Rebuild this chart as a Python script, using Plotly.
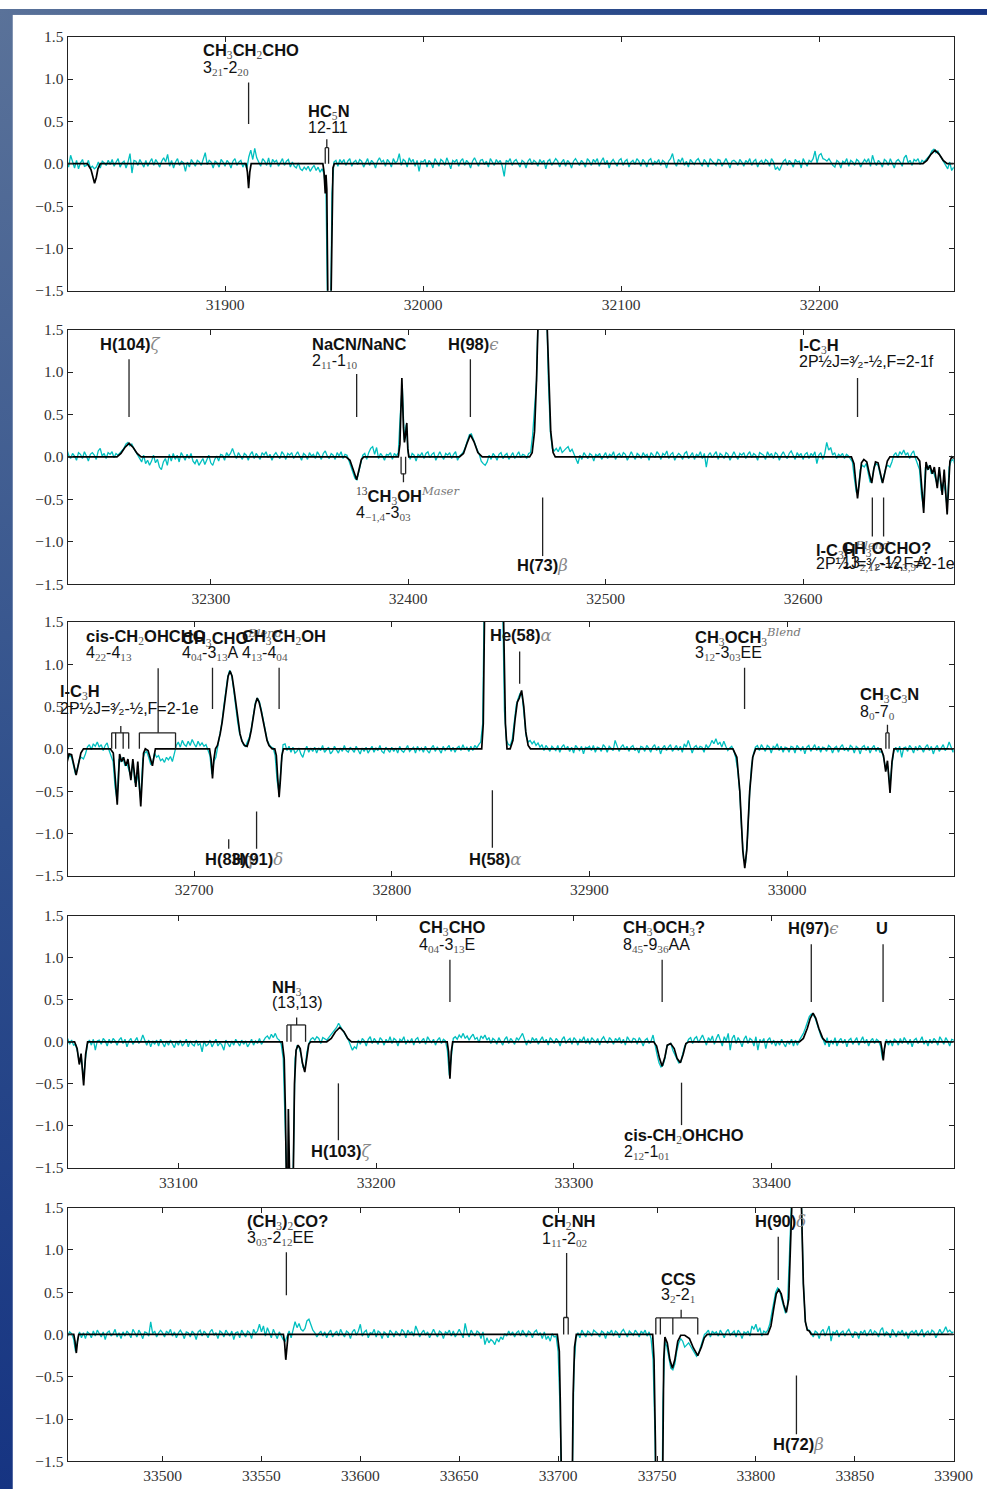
import base64
import plotly.graph_objects as go

# Observed spectrum: 1 MHz channels starting at 31820 MHz, 20 channels per row.
OBS_START_MHZ = 31820.0
OBS_STEP_MHZ = 1.0
obs_rows = [
    [.03,-.04,.1,.02,-.05,.04,-.06,.01,.05,-.03,-.02,.04,-.05,-.03,-.06,-.04,.02,-.05,.03,.01],
    [-.02,.04,-.01,.05,-.03,.02,.06,-.04,.01,.03,-.05,.02,.12,-.11,.04,.03,-.02,.05,.01,-.04],
    [.04,-.03,.02,.06,-.02,.05,.01,-.04,.03,.07,.02,.11,-.03,.04,-.05,.02,.06,-.02,.03,.01],
    [-.09,.02,-.04,.05,.01,-.03,.04,.02,-.02,.06,.13,-.01,.04,.02,-.05,.03,.01,-.04,.05,.02],
    [-.03,.04,.01,-.05,.03,.06,-.02,.02,.04,-.04,.01,-.06,.08,.16,.05,.18,.07,.02,-.03,.06],
    [.03,-.02,.07,-.04,.05,.02,.04,-.03,.01,.06,-.02,.03,.05,-.04,.02,-.03,-.05,.01,-.06,-.08],
    [-.04,-.07,-.03,-.09,-.05,-.02,-.08,-.04,-.1,-.06,-.12,-.35,-2.1,-2.6,-.35,.02,.04,-.03,.05,.01],
    [.05,-.02,.03,.06,-.03,.02,.04,-.01,.05,.03,-.04,.02,.06,-.02,.04,.01,-.05,.03,.07,.02],
    [.04,-.03,.05,.02,-.04,.06,.01,.03,.12,-.02,.05,.03,-.04,.07,.02,.05,-.03,.04,-.09,.03],
    [.02,.05,-.04,.04,.01,-.05,.06,.02,-.03,.05,.03,-.02,.07,.01,-.06,.04,.02,.05,-.03,.03],
    [.06,-.02,.04,.01,-.05,.03,.07,.02,-.03,.04,.05,-.01,.03,-.04,.06,.02,-.02,.05,.01,.04],
    [-.03,-.15,.04,.02,.06,-.02,.03,.05,.01,-.04,.04,.02,-.05,.03,.06,-.01,.04,.02,-.03,.05],
    [.01,.04,-.06,.03,.05,-.02,.02,.06,.03,-.04,.02,.05,-.03,.04,.01,-.05,.03,.06,.02,-.02],
    [.04,.01,-.04,.06,.03,-.02,.05,.02,.06,-.03,.03,.07,-.01,.04,-.05,.02,.05,.01,-.03,.04],
    [.06,-.02,.03,.05,-.04,.02,.04,-.01,.06,.03,-.03,.05,.02,-.04,.04,.06,-.02,.03,.01,.05],
    [-.02,.04,.02,-.05,.03,.06,.12,.01,-.03,.05,.02,.07,-.02,.03,-.04,.05,.02,-.01,.04,.06],
    [.01,-.03,.05,.02,-.04,.06,.03,.01,-.02,.05,.04,-.03,.02,.06,.01,-.05,.03,.04,.02,-.02],
    [.05,.02,-.03,.04,.01,.06,-.02,.03,.05,-.04,.02,.04,-.01,.05,.03,-.03,.06,.02,-.07,-.04],
    [-.08,-.02,.03,.05,-.02,.04,.01,-.04,.05,.02,.03,-.05,.06,.01,-.03,.04,.02,.06,.15,.01],
    [.1,.12,.06,.05,.03,.06,.02,-.02,-.04,.04,.02,-.05,.03,.01,.06,-.03,.04,.02,-.02,.05],
    [.03,-.04,.01,.05,.02,.06,-.03,.1,.02,-.02,.04,.01,-.04,.05,.03,-.02,.06,.01,-.05,.03],
    [.05,.02,-.03,.07,.1,.01,.04,-.02,.05,.03,.06,-.01,.04,.02,.05,.08,.1,.15,.17,.13],
    [.15,.1,.06,.02,-.03,-.06,.02,-.08,-.04,-.1,-.05,.02,-.07,-.03,-.12,-.15,-.06,-.02,-.1,.03],
    [-.05,.04,-.03,.02,-.06,.05,.01,-.04,.03,-.02,.04,-.05,-.08,-.03,-.1,-.06,-.02,-.09,-.04,.02],
    [-.07,-.1,-.03,.01,-.05,.03,.02,-.04,.05,.01,.04,.1,.03,-.02,.05,.01,-.03,.04,.02,-.04],
    [.03,.06,-.02,.04,.01,-.03,.05,.02,.06,-.01,.03,-.04,.02,.05,.01,-.02,.06,.03,-.03,.04],
    [.02,.05,-.02,.03,.06,.01,-.04,.04,.02,-.03,.05,.01,.03,-.02,.06,.02,-.03,.04,.07,.01],
    [-.02,.04,.02,-.03,.05,.01,.06,-.02,.03,.02,-.05,-.12,-.18,-.25,-.27,-.16,-.05,.02,.04,-.03],
    [.05,.1,.12,.03,.11,-.02,.04,.01,-.04,.03,.02,.05,-.03,.04,.01,.05,.5,.85,.2,.38],
    [.05,-.03,.04,.02,-.05,.03,.01,.05,-.02,.04,.06,-.01,.03,.05,-.04,.02,.06,.01,-.03,.04],
    [.02,.05,-.02,.03,.06,-.04,.01,.03,.06,.12,.2,.26,.27,.2,.13,.08,.03,-.05,-.08,-.1],
    [-.06,.02,-.03,.04,.01,-.04,.03,.05,-.02,.02,.04,-.03,.01,.05,-.02,.03,.06,-.01,.03,.02],
    [-.02,.04,.05,.25,.6,.9,1.9,3.2,3.6,3.2,1.9,.9,.3,.1,.07,.1,.06,.12,.05,.08],
    [.1,.12,.06,.09,.03,-.04,-.08,.02,-.03,.05,.01,-.02,.04,.02,-.05,.03,.01,.04,-.03,.02],
    [.05,-.02,.03,.01,.06,-.03,.02,.04,-.01,.05,.03,-.04,.02,.06,.01,-.03,.04,.02,-.02,.05],
    [.01,.03,-.04,.05,.02,-.01,.06,.03,-.03,.04,.02,.07,-.02,.03,.05,-.04,.01,.04,.02,-.03],
    [.04,.06,-.02,.02,.05,-.03,.03,.01,.06,-.02,.04,-.12,.02,.05,-.01,.03,.06,-.03,.04,.02],
    [-.02,.05,.03,-.04,.02,.06,.01,-.03,.04,.02,.05,-.02,.03,.06,-.01,.04,.02,-.04,.05,.03],
    [.02,-.03,.06,.01,.04,-.02,.05,.03,-.04,.02,.06,.01,-.02,.04,.07,.02,-.03,.05,.01,.04],
    [-.03,.03,.05,-.02,.04,.01,.06,-.08,.02,.05,-.03,.04,.17,.08,.11,.02,.05,-.02,.03,.01],
    [.04,-.02,.03,.01,-.02,-.06,-.25,-.42,-.38,-.15,-.1,-.12,-.08,-.2,-.3,-.26,-.12,-.08,-.1,-.2],
    [-.3,-.22,-.12,-.1,-.12,-.06,.02,.05,-.01,.06,.03,.08,.02,.05,-.02,.04,.07,-.02,-.1,-.15],
    [-.45,-.6,-.12,-.15,-.1,-.2,-.17,-.25,-.33,-.15,-.4,-.3,-.4,-.6,-.12,-.05,-.03,-.1,-.18,-.16],
    [-.05,-.1,-.08,-.14,-.12,-.16,-.1,-.13,-.09,-.15,-.07,.04,.08,.02,.1,.05,.03,.09,.04,.11],
    [.06,.02,.09,.04,.07,.03,.05,-.03,-.08,-.3,-.15,-.1,.02,.15,.3,.5,.68,.85,.93,.87],
    [.7,.5,.32,.18,.1,.05,.03,.08,.14,.25,.4,.55,.6,.56,.46,.33,.2,.1,.05,.02],
    [.01,-.08,-.38,-.52,-.2,.05,.06,-.02,.03,-.04,.02,-.05,-.03,.01,-.06,-.1,-.02,.03,-.04,.01],
    [-.03,.02,-.05,.01,-.02,.04,-.04,-.01,.02,-.06,-.03,.03,-.02,-.05,.01,-.03,.04,-.02,-.04,.02],
    [-.01,-.04,.03,-.02,-.06,.01,-.03,.02,-.05,-.01,.03,-.04,.01,-.02,.04,-.03,-.05,.02,-.01,-.04],
    [.02,-.03,.01,-.05,.03,-.02,-.04,.01,.04,-.03,-.01,.02,-.05,.03,-.02,.01,-.04,.03,-.02,-.05],
    [.01,.04,-.03,.02,-.01,-.05,.03,-.02,.01,.04,-.03,.02,-.04,.01,.03,-.02,.05,-.01,.02,-.03],
    [.03,-.02,.04,.01,.05,.08,.3,1.2,4,7.5,10,11.4,11.6,10.4,8,5,1.9,.45,.1,.05],
    [.04,.12,.3,.52,.6,.66,.62,.35,.15,.08,.1,.06,.09,.04,.07,.02,.05,-.02,.04,.01],
    [-.03,.03,.01,-.02,.04,-.04,.02,.05,-.01,.03,-.03,.02,-.05,.04,.01,-.02,.03,-.06,.02,.01],
    [.03,-.02,.04,-.04,.02,.01,-.03,.05,.02,-.04,.03,.01,-.02,.1,.04,-.03,.02,.05,-.01,.03],
    [-.03,.02,.04,-.02,.01,-.05,.03,.02,-.03,.04,.01,-.04,.02,.05,-.02,.03,-.06,.01,.04,-.02],
    [.02,.05,-.03,.01,.04,-.02,.03,-.04,.06,.02,.1,.03,-.05,.02,.04,-.01,.03,.02,-.04,.05],
    [.01,.04,.1,.06,.12,.05,.08,.02,.09,.03,-.02,.01,.03,-.02,-.1,-.25,-.5,-.95,-1.3,-1.35],
    [-1.05,-.55,-.2,-.06,.02,.04,-.02,.05,.01,-.03,.04,.02,-.05,.03,.01,.06,-.02,.03,-.04,.02],
    [.01,-.04,.03,.02,-.05,.04,.01,-.02,.03,-.06,.02,.04,-.03,.01,.05,-.02,.03,-.04,.02,.01],
    [-.03,.04,.02,-.05,.01,.03,-.04,.02,.05,-.02,.01,-.03,.04,.02,-.05,.03,.01,-.06,.02,.04],
    [-.02,.03,-.05,.01,.04,-.03,.02,-.04,-.03,-.12,-.25,-.2,-.45,-.2,-.03,.02,-.04,.03,-.1,.01],
    [.02,-.03,.04,.01,-.05,.03,-.02,.04,.01,-.04,.02,.05,-.02,.03,-.06,.01,.04,-.03,.02,.05],
    [-.02,.01,.08,.03,-.04,.02,-.06,.01,-.03,.02,-.05,.03,-.02,-.06,.01,-.04,.02,-.03,-.07,.01],
    [-.04,.02,-.05,-.02,.03,-.06,.01,-.03,-.05,.02,-.04,-.02,-.12,.01,-.05,-.03,.02,-.06,-.02,.03],
    [-.05,-.01,-.04,-.1,.02,-.03,-.06,.01,-.04,.03,-.02,-.05,.02,-.03,.01,-.06,-.02,.03,-.04,.01],
    [-.02,.04,-.03,.02,.05,.07,.03,.09,.05,.1,.04,.02,-.03,-.2,-1.2,-2.4,-2.6,-2.5,-1.6,-.2],
    [-.05,-.06,-.15,-.3,-.33,-.12,-.02,.03,.05,.02,.06,.04,-.02,.05,.03,.02,.05,.08,.12,.15],
    [.17,.22,.18,.14,.1,.05,.02,-.04,-.1,-.06,-.08,.02,-.03,.04,.01,-.05,.03,.06,-.02,.04],
    [.01,-.03,.05,.02,-.04,.03,-.01,.06,-.02,.04,.02,-.05,.03,.01,.06,-.03,.02,-.01,.04,-.04],
    [.03,.05,-.02,.01,.04,-.03,.06,.02,-.01,.03,-.04,.02,.05,-.02,.03,.01,-.1,-.4,-.2,.04],
    [.06,.03,.08,.05,.1,.04,.07,.02,.06,.09,.03,.05,-.01,.07,.04,.08,.02,.05,-.02,.04],
    [.02,-.03,.05,.01,-.04,.03,.06,-.02,.04,.01,-.03,.05,.02,.06,.1,.03,-.04,.02,-.02,.05],
    [.01,.04,-.03,.02,.06,-.01,.03,-.04,.05,.02,-.02,.04,.01,-.05,.03,.06,-.02,.02,.04,-.03],
    [.05,.02,-.04,.03,.01,.06,-.02,.04,-.03,.05,.02,-.01,.04,-.04,.03,.06,.01,-.02,.05,.02],
    [-.03,.04,.01,.05,-.02,.03,-.04,.06,.02,-.01,.04,.03,-.03,.05,.01,-.05,.02,.04,-.02,.01],
    [.08,-.05,-.15,-.25,-.3,-.28,-.2,-.05,-.03,-.02,-.1,-.15,-.22,-.25,-.24,-.15,-.05,-.02,.03,.05],
    [-.02,.04,.06,-.01,.03,.08,.02,-.04,.05,.01,.07,-.03,.04,.09,.02,-.05,.06,.01,.1,-.1],
    [.04,.08,-.02,.05,.01,-.06,.03,.07,-.02,.04,.02,-.05,.06,-.1,.03,-.01,.04,-.08,.02,.05],
    [-.03,.02,-.05,.01,-.04,.03,-.02,-.06,.01,-.03,.03,-.05,.02,-.04,.02,.06,.1,.16,.22,.3],
    [.33,.32,.28,.2,.12,.06,.03,-.04,.05,-.06,.02,-.03,.05,-.05,.01,.04,-.02,.03,-.06,.02],
    [.04,-.03,.01,.05,-.04,.02,.06,-.02,.03,-.05,.01,.04,-.02,.03,.01,-.05,-.2,-.08,.03,-.04],
    [.02,-.05,.03,.01,-.04,.04,-.02,.05,.01,-.03,.03,-.06,.02,.04,-.02,.01,.06,-.03,.02,-.05],
    [.03,-.02,.04,.01,-.04,.06,.02,-.03,.05,.01,-.05,.03,.02,-.02,.15,.01,.04,-.03,.02,.05],
    [.02,-.03,.04,.01,.06,-.02,.03,-.04,.02,.05,.01,-.05,.03,.02,-.03,.04,.01,-.06,.03,.05],
    [-.02,.04,.01,-.04,.03,.06,-.01,.02,-.05,.04,.02,-.03,.05,.01,-.02,.04,-.06,.02,.03,-.04],
    [.05,.01,-.03,.04,.02,-.05,.06,.01,.04,.12,.03,.1,-.02,.08,.02,-.04,.06,.01,-.05,.03],
    [-.02,-.06,-.08,-.03,.04,-.04,.05,.15,.08,.13,.06,.04,.07,.16,.18,.12,.05,.02,-.03,.01],
    [.04,-.02,.03,-.04,.02,.05,-.03,.01,.04,-.02,.06,.01,-.03,.04,.02,-.05,.03,.06,-.01,.04],
    [.12,-.02,.03,.05,-.04,.02,.01,.06,-.03,.04,.02,-.05,.03,.01,-.04,.05,.02,-.03,.04,.01],
    [-.02,.06,.03,-.04,.05,.01,.03,-.02,.1,.04,-.03,.02,.05,-.01,.03,-.04,.02,.06,.01,-.03],
    [.04,.02,-.05,.03,.01,.05,-.02,.04,-.03,.02,.06,.01,-.04,.13,.02,-.03,.05,.01,-.02,.04],
    [.02,-.05,.03,-.12,-.04,-.1,-.06,-.08,-.12,-.05,-.09,-.03,-.06,.01,-.02,.04,-.01,.03,-.03,.02],
    [.04,-.02,.05,.01,-.03,.04,.02,-.04,.03,.05,-.01,.02,-.05,.03,-.06,-.02,-.08,.01,-.03,-.02],
    [-.2,-.9,-3,-5,-6,-6,-4.5,-2,-.4,-.05,.02,-.04,.05,.01,-.03,.04,.02,-.02,.05,.03],
    [.01,-.03,.04,.02,-.05,.03,.01,.05,-.02,.04,.02,-.04,.03,.06,.01,-.03,.04,.02,-.01,.05],
    [.02,-.03,.04,.01,.05,-.02,.03,-.05,-.3,-1.2,-4,-5.5,-3.5,-.8,-.08,-.15,-.28,-.4,-.42,-.35],
    [-.2,-.1,-.05,-.08,-.15,-.12,-.1,-.14,-.18,-.22,-.26,-.23,-.15,-.06,.0,.02,.05,-.03,.04,.01],
    [.03,-.02,.05,.01,-.04,.03,.06,-.01,.02,.04,-.03,.05,.02,-.05,.03,.01,.04,-.02,.1,.06],
    [.12,.03,.08,-.02,.04,.02,.05,.12,.25,.38,.5,.55,.52,.42,.32,.25,.35,.8,1.2,2.2],
    [3.4,3.3,2.6,1.6,.6,.15,.06,.05,.02,-.03,.04,.02,-.05,.03,.06,-.02,.04,.1,-.08,.03],
    [.01,.05,-.03,.02,.04,-.02,.03,.06,.01,-.04,.03,.02,-.05,.04,.01,.05,-.02,.03,.06,-.01],
    [.04,.02,-.03,.05,.08,-.02,.03,.01,-.04,.06,.02,-.03,.04,.01,.05,-.02,.03,-.05,.02,.04],
    [.01,.05,-.02,.03,.06,-.03,.02,.04,-.01,.05,.03,-.04,.02,.06,.01,.04,.09,.03,.05,.02,.03],
]

# Fitted model spectrum as (frequency MHz, intensity) vertices; flat zero between lines.
model_points = [
    (31820.0, 0),
    (31830.5, 0), (31832.3, -0.07), (31833.3, -0.17), (31834.1, -0.23), (31835.0, -0.16), (31835.8, -0.06), (31837.0, 0),
    (31910.6, 0), (31911.3, -0.1), (31911.9, -0.29), (31912.5, -0.1), (31913.2, 0),
    (31949.4, 0), (31950.0, -0.1), (31950.6, -0.35), (31951.0, -0.13), (31951.4, -0.3), (31951.9, -1.5),
    (31952.7, -3.5), (31953.6, -1.5), (31954.0, -0.4), (31954.5, -0.05), (31955.2, 0),
    (32252.5, 0), (32254.5, 0.04), (32256.5, 0.11), (32258.6, 0.16), (32260.7, 0.11), (32262.7, 0.04), (32264.7, 0),
    (32368.5, 0), (32370.5, -0.04), (32372.2, -0.16), (32373.9, -0.27), (32375.2, -0.14), (32376.3, -0.03), (32377.5, 0),
    (32395.0, 0), (32395.8, 0.15), (32396.8, 0.93), (32397.6, 0.35), (32398.1, 0.17), (32398.6, 0.25),
    (32399.3, 0.40), (32399.8, 0.1), (32400.3, 0),
    (32426.0, 0), (32428.0, 0.04), (32429.8, 0.16), (32431.5, 0.26), (32433.3, 0.18), (32435.3, 0.05), (32437.5, 0),
    (32461.5, 0), (32462.8, 0.05), (32464.0, 0.3), (32465.0, 0.9), (32465.9, 1.6), (32468.1, 3.6),
    (32470.3, 1.6), (32471.2, 0.9), (32472.2, 0.3), (32473.4, 0.05), (32474.5, 0),
    (32624.5, 0), (32625.8, -0.08), (32626.8, -0.32), (32627.6, -0.49), (32628.5, -0.3), (32629.6, -0.07),
    (32630.8, -0.03), (32632.3, -0.06), (32633.6, -0.2), (32634.8, -0.31), (32635.8, -0.15), (32636.7, -0.06),
    (32638.0, -0.07), (32639.2, -0.2), (32640.3, -0.31), (32641.5, -0.18), (32642.7, -0.05), (32644.0, 0),
    (32657.6, 0), (32659.1, -0.05), (32661.1, -0.66), (32662.3, -0.06), (32663.3, -0.15), (32664.3, -0.1),
    (32665.5, -0.2), (32666.5, -0.12), (32668.0, -0.37), (32669.0, -0.12), (32670.5, -0.45), (32671.5, -0.15),
    (32673.0, -0.68), (32674.4, -0.05), (32675.3, 0), (32676.7, -0.02), (32678.9, -0.2), (32680.4, 0),
    (32707.8, 0), (32708.6, -0.12), (32709.3, -0.35), (32710.0, -0.12), (32710.8, 0),
    (32711.8, 0.04), (32713.2, 0.18), (32714.2, 0.32), (32715.2, 0.51), (32716.2, 0.70), (32717.2, 0.86),
    (32718.2, 0.92), (32719.2, 0.86), (32720.2, 0.70), (32721.2, 0.51), (32722.2, 0.32), (32723.2, 0.18),
    (32724.2, 0.09), (32725.5, 0.04), (32726.8, 0.03), (32728.0, 0.12), (32728.9, 0.22), (32729.9, 0.36),
    (32730.9, 0.52), (32731.9, 0.6), (32732.9, 0.55), (32733.9, 0.45), (32734.9, 0.33), (32735.9, 0.2),
    (32736.9, 0.1), (32737.9, 0.04), (32739.5, 0),
    (32740.8, 0), (32741.6, -0.08), (32742.3, -0.35), (32743.0, -0.57), (32743.7, -0.35), (32744.4, -0.08), (32745.2, 0),
    (32845.5, 0), (32846.3, 0.3), (32847.2, 1.5), (32848.3, 4.5), (32851.9, 11.7), (32855.5, 4.5),
    (32856.6, 1.5), (32857.5, 0.3), (32858.3, 0),
    (32859.9, 0), (32861.3, 0.1), (32862.4, 0.35), (32863.5, 0.55), (32864.5, 0.6), (32865.7, 0.69),
    (32866.8, 0.5), (32867.8, 0.2), (32869.0, 0.04), (32870.2, 0),
    (32972.6, 0), (32974.6, -0.1), (32976.1, -0.5), (32977.6, -1.2), (32978.6, -1.41), (32979.6, -1.2),
    (32981.1, -0.5), (32982.6, -0.1), (32984.1, 0),
    (33047.5, 0), (33048.8, -0.08), (33049.9, -0.27), (33050.8, -0.14), (33052.1, -0.52), (33053.1, -0.15), (33054.1, 0),
    (33152.5, 0), (33153.5, -0.2), (33154.1, -0.8), (33154.6, -2.0), (33155.1, -2.5), (33155.6, -0.8),
    (33156.1, -2.5), (33157.2, -2.8), (33158.1, -1.6), (33158.7, -0.5), (33159.5, -0.1), (33160.5, -0.04),
    (33161.6, -0.08), (33162.7, -0.25), (33163.9, -0.36), (33164.9, -0.2), (33165.9, -0.03), (33166.9, 0),
    (33175.0, 0), (33177.3, 0.04), (33179.4, 0.12), (33181.6, 0.17), (33183.7, 0.12), (33185.6, 0.04), (33187.5, 0),
    (33235.9, 0), (33236.6, -0.12), (33237.3, -0.44), (33238.0, -0.12), (33238.7, 0),
    (33340.3, 0), (33341.8, -0.05), (33343.3, -0.2), (33344.6, -0.29), (33346.0, -0.18), (33347.2, -0.04),
    (33348.9, -0.02), (33350.7, -0.08), (33352.2, -0.2), (33353.8, -0.25), (33355.2, -0.15), (33356.6, -0.02), (33358.1, 0),
    (33414.0, 0), (33416.0, 0.04), (33418.0, 0.16), (33419.5, 0.28), (33420.9, 0.34), (33422.3, 0.28),
    (33423.8, 0.16), (33425.8, 0.04), (33427.5, 0),
    (33455.1, 0), (33455.7, -0.08), (33456.4, -0.22), (33457.0, -0.08), (33457.6, 0),
    (33561.1, 0), (33561.7, -0.1), (33562.3, -0.30), (33562.9, -0.1), (33563.5, 0),
    (33699.6, 0), (33700.6, -0.2), (33701.1, -0.8), (33701.5, -1.6), (33702.2, -3.5), (33704.3, -6),
    (33706.4, -3.5), (33707.1, -1.6), (33707.6, -0.7), (33708.3, -0.15), (33709.2, 0),
    (33747.8, 0), (33748.5, -0.3), (33749.2, -1.3), (33749.6, -3), (33751.0, -5), (33752.4, -3),
    (33752.8, -1.3), (33753.4, -0.3), (33754.0, -0.03), (33755.2, -0.1), (33756.5, -0.3), (33757.8, -0.4),
    (33759.0, -0.3), (33760.5, -0.08), (33762.0, -0.01), (33764.0, -0.01), (33766.4, -0.05), (33768.4, -0.16),
    (33770.6, -0.25), (33772.4, -0.15), (33773.9, -0.04), (33775.4, 0),
    (33806.0, 0), (33807.6, 0.1), (33809.1, 0.32), (33810.3, 0.48), (33811.6, 0.53), (33812.8, 0.48),
    (33814.1, 0.35), (33815.4, 0.26), (33816.6, 0.42), (33817.6, 0.9), (33818.7, 1.55), (33820.8, 3.4),
    (33823.0, 1.55), (33824.0, 0.6), (33825.0, 0.15), (33826.0, 0.05), (33827.0, 0.04), (33828.0, 0),
    (33900.0, 0),
]

# Frequency window (MHz) and tick step of each panel, top to bottom.
panel_ranges = [(31820.5, 32268.0), (32227.5, 32676.3), (32636.0, 33084.3), (33044.0, 33492.0), (33452.0, 33900.0)]
panel_dtick = [100, 100, 100, 100, 50]
y_tick_values = [-1.5, -1.0, -0.5, 0.0, 0.5, 1.0, 1.5]
y_tick_labels = ["\u22121.5", "\u22121.0", "\u22120.5", "0.0", "0.5", "1.0", "1.5"]

# ---- rich-text helpers for the line identifications
def s(t):
    return '<sub><span style="font-family:Liberation Serif;font-weight:normal;color:#555">' + t + '</span></sub>'

def g(t):
    return '<span style="font-family:DejaVu Serif;font-style:italic;font-weight:normal;color:#888">' + t + '</span>'

def sp(t):
    return '<sup><span style="font-family:DejaVu Serif;font-style:italic;font-weight:normal;color:#777">' + t + '</span></sup>'

ISO13 = '<sup><span style="font-family:Liberation Serif;font-weight:normal;color:#444">13</span></sup>'
LC3H_F = "2P\u00bdJ=\u00b3\u2044\u2082-\u00bd,F=2-1f"
LC3H_E = "2P\u00bdJ=\u00b3\u2044\u2082-\u00bd,F=2-1e"

# (panel, species, transition, left edge MHz, species y, transition y)
line_labels = [
    (0, "CH" + s("3") + "CH" + s("2") + "CHO", "3" + s("21") + "-2" + s("20"), 31887.8, 1.33, 1.13),
    (0, "HC" + s("5") + "N", "12-11", 31940.7, 0.61, 0.43),
    (1, "H(104)" + g("\u03b6"), None, 32242.9, 1.325, None),
    (1, "NaCN/NaNC", "2" + s("11") + "-1" + s("10"), 32350.1, 1.325, 1.122),
    (1, "H(98)" + g("\u03f5"), None, 32419.1, 1.325, None),
    (1, "l-C" + s("3") + "H", LC3H_F, 32596.9, 1.31, 1.13),
    (1, ISO13 + "CH" + s("3") + "OH" + sp("Maser"), "4" + s("\u22121,4") + "-3" + s("03"), 32372.8, -0.45, -0.664),
    (1, "H(73)" + g("\u03b2"), None, 32454.3, -1.286, None),
    (1, "l-C" + s("3") + "H" + sp("Blend"), LC3H_E, 32605.3, -1.092, -1.255),
    (1, "CH" + s("3") + "OCHO?", "13" + s("2,11") + "-12" + s("3,9") + "A", 32618.7, -1.092, -1.255),
    (2, "l-C" + s("3") + "H", LC3H_E, 32631.0, 0.674, 0.48),
    (2, "cis-CH" + s("2") + "OHCHO", "4" + s("22") + "-4" + s("13"), 32644.2, 1.317, 1.122),
    (2, "CH" + s("3") + "CHO" + sp("Blend"), "4" + s("04") + "-3" + s("13") + "A", 32692.7, 1.317, 1.122),
    (2, "CH" + s("3") + "CH" + s("2") + "OH", "4" + s("13") + "-4" + s("04"), 32723.3, 1.317, 1.122),
    (2, "H(83)" + g("\u03b3"), None, 32704.5, -1.305, None),
    (2, "H(91)" + g("\u03b4"), None, 32718.4, -1.305, None),
    (2, "H(58)" + g("\u03b1"), None, 32838.0, -1.305, None),
    (2, "He(58)" + g("\u03b1"), None, 32848.5, 1.336, None),
    (2, "CH" + s("3") + "OCH" + s("3") + sp("Blend"), "3" + s("12") + "-3" + s("03") + "EE", 32952.4, 1.325, 1.13),
    (2, "CH" + s("3") + "C" + s("3") + "N", "8" + s("0") + "-7" + s("0"), 33036.0, 0.635, 0.428),
    (3, "NH" + s("3"), "(13,13)", 33146.1, 0.642, 0.466),
    (3, "H(103)" + g("\u03b6"), None, 33165.9, -1.308, None),
    (3, "CH" + s("3") + "CHO", "4" + s("04") + "-3" + s("13") + "E", 33220.4, 1.347, 1.15),
    (3, "CH" + s("3") + "OCH" + s("3") + "?", "8" + s("45") + "-9" + s("36") + "AA", 33323.6, 1.347, 1.15),
    (3, "cis-CH" + s("2") + "OHCHO", "2" + s("12") + "-1" + s("01"), 33324.1, -1.12, -1.317),
    (3, "H(97)" + g("\u03f5"), None, 33407.2, 1.347, None),
    (3, "U", None, 33451.9, 1.347, None),
    (4, "(CH" + s("3") + ")" + s("2") + "CO?", "3" + s("03") + "-2" + s("12") + "EE", 33541.6, 1.325, 1.138),
    (4, "CH" + s("2") + "NH", "1" + s("11") + "-2" + s("02"), 33690.6, 1.328, 1.118),
    (4, "CCS", "3" + s("2") + "-2" + s("1"), 33750.9, 0.659, 0.463),
    (4, "H(90)" + g("\u03b4"), None, 33798.3, 1.332, None),
    (4, "H(72)" + g("\u03b2"), None, 33807.7, -1.305, None),
]

# Single identification markers: (panel, MHz, y start, y end)
line_markers = [
    (0, 31911.9, 0.96, 0.47),
    (1, 32258.6, 1.15, 0.47), (1, 32373.9, 0.976, 0.47), (1, 32431.5, 1.15, 0.47), (1, 32627.6, 0.93, 0.47),
    (1, 32468.1, -0.48, -1.17), (1, 32635.1, -0.48, -0.94), (1, 32640.8, -0.48, -0.94),
    (2, 32709.3, 0.96, 0.47), (2, 32743.0, 0.96, 0.47), (2, 32717.5, -1.07, -1.18), (2, 32731.6, -0.74, -1.18),
    (2, 32850.9, -0.49, -1.17), (2, 32864.7, 1.15, 0.77), (2, 32978.5, 0.96, 0.47),
    (3, 33180.9, -0.494, -1.17), (3, 33237.3, 0.975, 0.474), (3, 33344.6, 0.975, 0.474),
    (3, 33354.4, -0.486, -0.99), (3, 33420.0, 1.16, 0.474), (3, 33456.3, 1.16, 0.474),
    (4, 33562.6, 0.97, 0.463), (4, 33811.3, 1.156, 0.642), (4, 33820.5, -0.487, -1.18),
]

# Hyperfine / multiplet combs: (panel, component MHz, comb level, stem MHz, stem end)
line_combs = [
    (0, [31950.6, 31952.3], 0.19, 31951.4, 0.29),
    (1, [32396.4, 32398.7], -0.2, 32397.6, -0.3),
    (2, [32658.3, 32660.3, 32664.1, 32666.9], 0.19, 32662.9, 0.27),
    (2, [32672.3, 32690.6], 0.19, 32681.8, 0.954),
    (2, [33050.0, 33051.6], 0.19, 33050.8, 0.285),
    (3, [33154.9, 33156.9, 33164.3], 0.2, 33159.8, 0.29),
    (4, [33702.8, 33705.1], 0.2, 33704.3, 0.962),
    (4, [33749.4, 33751.7, 33758.0, 33770.6], 0.195, 33762.2, 0.292),
]

# ---------------------------------------------------------------- layout
W, H = 1007, 1497
X_PX = (69, 973)
PANEL_PX = [(28, 285), (324.3, 581.7), (620, 876.7), (917, 1172.3), (1212.3, 1469)]

obs_freq, obs_val = [], []
for r, row in enumerate(obs_rows):
    for i, v in enumerate(row):
        obs_freq.append(OBS_START_MHZ + OBS_STEP_MHZ * (20 * r + i))
        obs_val.append(v)
model_freq = [p[0] for p in model_points]
model_val = [p[1] for p in model_points]

fig = go.Figure()
xdom = [X_PX[0] / W, X_PX[1] / W]
axis_style = dict(
    showline=True, linecolor="#222", linewidth=1.2, mirror="ticks",
    ticks="inside", ticklen=5, tickwidth=1, tickcolor="#222",
    showgrid=False, zeroline=False,
    tickfont=dict(family="Liberation Serif", size=15.5, color="#333"),
)

def axis_names(i):
    return ("x" if i == 0 else f"x{i+1}", "y" if i == 0 else f"y{i+1}")

for i, (r0, r1) in enumerate(panel_ranges):
    xr, yr = axis_names(i)
    lo = [k for k, f in enumerate(obs_freq) if r0 - 1 <= f <= r1 + 1]
    fig.add_trace(go.Scatter(x=[obs_freq[k] for k in lo], y=[obs_val[k] for k in lo], mode="lines",
                             line=dict(color="#00bfbf", width=1.3), xaxis=xr, yaxis=yr, hoverinfo="skip"))
    fig.add_trace(go.Scatter(x=model_freq, y=model_val, mode="lines",
                             line=dict(color="#000000", width=1.7), xaxis=xr, yaxis=yr, hoverinfo="skip"))
    top, bot = PANEL_PX[i]
    d = panel_dtick[i]
    first = (int(r0) // d + 1) * d
    xt = list(range(first, int(r1) + 1, d))
    xkey = "xaxis" if i == 0 else f"xaxis{i+1}"
    ykey = "yaxis" if i == 0 else f"yaxis{i+1}"
    fig.update_layout(**{
        xkey: dict(domain=xdom, range=[r0, r1], anchor=yr, tickvals=xt, ticktext=[str(v) for v in xt], **axis_style),
        ykey: dict(domain=[1 - bot / H, 1 - top / H], range=[-1.5, 1.5], anchor=xr,
                   tickvals=y_tick_values, ticktext=y_tick_labels, **axis_style),
    })

shapes = []
def seg(i, x0, y0, x1, y1):
    xr, yr = axis_names(i)
    shapes.append(dict(type="line", xref=xr, yref=yr, x0=x0, y0=y0, x1=x1, y1=y1,
                       line=dict(color="#222", width=1.3)))

for (i, f, y0, y1) in line_markers:
    seg(i, f, y0, f, y1)
for (i, comps, lev, stem, stem_end) in line_combs:
    for f in comps:
        seg(i, f, 0, f, lev)
    seg(i, min(comps), lev, max(comps), lev)
    seg(i, stem, lev, stem, stem_end)

annotations = []
def paper_x(i, f):
    r0, r1 = panel_ranges[i]
    return xdom[0] + (f - r0) / (r1 - r0) * (xdom[1] - xdom[0])

for (i, title, trans, left, y1, y2) in line_labels:
    _, yr = axis_names(i)
    annotations.append(dict(text="<b>" + title + "</b>", x=paper_x(i, left), xref="paper", y=y1, yref=yr,
                            xanchor="left", yanchor="middle", showarrow=False,
                            font=dict(family="Liberation Sans", size=16.5, color="#111")))
    if trans:
        annotations.append(dict(text=trans, x=paper_x(i, left), xref="paper", y=y2, yref=yr,
                                xanchor="left", yanchor="middle", showarrow=False,
                                font=dict(family="Liberation Sans", size=16, color="#111")))

# blue backdrop framing the white figure
svg = (
    "<svg xmlns='http://www.w3.org/2000/svg' width='1007' height='1497' viewBox='0 0 1007 1497' preserveAspectRatio='none'>"
    "<defs><radialGradient id='bg' cx='0' cy='0' r='1' gradientUnits='objectBoundingBox'>"
    "<stop offset='0' stop-color='#5a7299'/><stop offset='0.55' stop-color='#2f4f8c'/>"
    "<stop offset='1' stop-color='#163482'/></radialGradient></defs>"
    "<rect width='1007' height='1497' fill='url(#bg)'/>"
    "<rect x='13' y='6' width='994' height='1491' fill='#ffffff'/></svg>"
)
bg_src = "data:image/svg+xml;base64," + base64.b64encode(svg.encode()).decode()

fig.update_layout(
    width=W, height=H, margin=dict(l=0, r=0, t=0, b=0),
    paper_bgcolor="#ffffff", plot_bgcolor="rgba(0,0,0,0)",
    showlegend=False, shapes=shapes, annotations=annotations,
    images=[dict(source=bg_src, xref="paper", yref="paper", x=0, y=1, sizex=1, sizey=1,
                 xanchor="left", yanchor="top", sizing="stretch", layer="below")],
    font=dict(family="Liberation Sans"),
)

fig.write_html("out.html")
